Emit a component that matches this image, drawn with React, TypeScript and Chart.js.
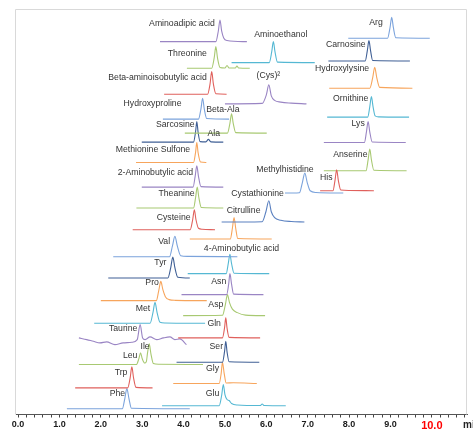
import React, { useEffect, useRef } from 'react';
import { Chart, registerables } from 'chart.js';

Chart.register(...registerables);

type Pt = [number, number];

// x: retention time (min); y: stacked signal offset (arbitrary units)
const X_MIN = -0.05;
const X_MAX = 10.85;
const X_STEP = 0.2;
const Y_MIN = 0;
const Y_MAX = 405;

// ---- traces (time, signal) ----
const AMINOADIPIC: Pt[] = [[3.43, 373.3], [4.78, 373.3], [4.84, 384], [4.88, 395], [4.92, 384], [4.97, 377], [5.05, 374.5], [5.53, 373.3]];
const THREONINE: Pt[] = [[4.08, 346.7], [4.68, 346.7], [4.74, 357], [4.78, 368.3], [4.82, 357], [4.88, 347.5], [5.0, 347], [5.05, 349.5], [5.1, 347], [5.25, 347], [5.29, 349], [5.33, 347], [5.6, 346.7]];
const AMINOETHANOL: Pt[] = [[5.16, 352.3], [6.07, 352.3], [6.13, 363], [6.17, 373.3], [6.21, 363], [6.27, 352.8], [7.17, 352.3]];
const BAIBA: Pt[] = [[3.53, 320.7], [4.58, 320.7], [4.64, 331], [4.68, 343.3], [4.72, 331], [4.78, 321.2], [5.04, 320.7]];
const CYSTINE: Pt[] = [[5.0, 311], [5.9, 311.5], [6.0, 320], [6.06, 330], [6.12, 319], [6.2, 314.5], [6.35, 312.8], [6.6, 311.8], [6.97, 311]];
const HYDROXYPROLINE: Pt[] = [[3.5, 295.7], [4.36, 295.7], [4.42, 306], [4.46, 316.7], [4.5, 306], [4.56, 296.3], [5.1, 295.7]];
const BETA_ALA: Pt[] = [[4.03, 281.7], [5.06, 281.7], [5.12, 291.5], [5.16, 301], [5.2, 291.5], [5.26, 282.2], [6.01, 281.7]];
const SARCOSINE: Pt[] = [[2.99, 272.7], [4.24, 272.7], [4.29, 283], [4.32, 293.3], [4.35, 283], [4.4, 273.2], [4.54, 273], [4.6, 275.5], [4.66, 273], [4.96, 272.7]];
const MET_SULFONE: Pt[] = [[2.85, 252.3], [4.24, 252.3], [4.29, 262.5], [4.32, 272.3], [4.35, 262.5], [4.41, 252.8], [4.55, 252.3]];
const AMINOBUTYLIC_2: Pt[] = [[2.99, 227.7], [4.23, 227.7], [4.28, 238.5], [4.32, 249], [4.36, 238.5], [4.42, 228.2], [4.96, 227.7]];
const THEANINE: Pt[] = [[2.86, 206.7], [4.24, 206.7], [4.29, 217], [4.33, 227.7], [4.37, 217], [4.43, 207.2], [4.96, 206.7]];
const CYSTEINE: Pt[] = [[2.77, 185], [4.16, 185], [4.22, 195], [4.26, 205], [4.3, 195], [4.36, 186.5], [4.45, 185.5], [4.76, 185]];
const CYSTATHIONINE: Pt[] = [[4.92, 192.7], [5.9, 193], [5.99, 203], [6.06, 214], [6.12, 203], [6.2, 197], [6.35, 194.5], [6.6, 193.2], [6.92, 192.7]];
const CITRULLINE: Pt[] = [[4.15, 175.7], [5.13, 175.7], [5.18, 186.5], [5.22, 197.3], [5.26, 186.5], [5.31, 176.2], [6.13, 175.7]];
const METHYLHISTIDINE: Pt[] = [[6.45, 221.7], [6.8, 222], [6.87, 232], [6.93, 241.7], [6.99, 232], [7.06, 224], [7.2, 222.3], [7.86, 221.7]];
const HIS: Pt[] = [[7.3, 224], [7.61, 224], [7.66, 234.5], [7.7, 245], [7.74, 234.5], [7.8, 224.8], [8.0, 224.3], [8.6, 224]];
const VAL: Pt[] = [[2.3, 158], [3.66, 158], [3.73, 168.5], [3.79, 178.3], [3.85, 168.5], [3.93, 159], [4.1, 158.3], [5.3, 158]];
const GABA: Pt[] = [[4.1, 141], [5.03, 141], [5.08, 151], [5.12, 160.5], [5.16, 151], [5.22, 141.5], [6.07, 141]];
const TYR: Pt[] = [[2.18, 136.7], [3.62, 136.7], [3.69, 147], [3.74, 157.7], [3.79, 147], [3.86, 137.5], [4.15, 136.7]];
const PRO: Pt[] = [[2.0, 114], [3.34, 114], [3.4, 124], [3.45, 133.3], [3.5, 125], [3.56, 118], [3.65, 115], [3.8, 114.3], [4.56, 114]];
const ASN: Pt[] = [[3.95, 120], [5.04, 120], [5.09, 130.5], [5.12, 141], [5.16, 130.5], [5.21, 120.5], [5.93, 120]];
const ASP: Pt[] = [[3.99, 99], [4.94, 99.3], [5.01, 110], [5.06, 120], [5.11, 112], [5.18, 105.5], [5.3, 102], [5.5, 99.5], [5.97, 99]];
const MET: Pt[] = [[1.84, 91.3], [3.19, 91.3], [3.26, 102], [3.31, 112.3], [3.36, 102], [3.43, 92.3], [3.55, 91.6], [4.52, 91.3]];
const GLN: Pt[] = [[3.87, 76.7], [4.94, 76.7], [4.99, 86.7], [5.02, 96.7], [5.05, 86.7], [5.1, 77.2], [5.85, 76.7]];
const TAURINE: Pt[] = [[1.47, 76.7], [1.66, 75], [1.82, 73.3], [1.98, 71.7], [2.14, 72.7], [2.34, 70], [2.54, 71.7], [2.75, 72.3], [2.88, 75], [2.95, 90], [3.01, 76.7], [3.07, 75], [3.19, 77.7], [3.35, 75], [3.51, 76.7], [3.67, 77.7], [3.79, 75], [3.91, 75.7], [4.07, 70]];
const SER: Pt[] = [[3.83, 52.3], [4.94, 52.3], [4.99, 63], [5.02, 73.3], [5.05, 63], [5.1, 52.8], [5.83, 52.3]];
const LEU_ILE: Pt[] = [[1.47, 50], [2.86, 50], [2.92, 56], [2.96, 61.7], [3.0, 56], [3.06, 51.5], [3.1, 53], [3.13, 62], [3.17, 70.7], [3.21, 61], [3.27, 51], [3.4, 50.3], [4.47, 50]];
const TRP: Pt[] = [[1.38, 26.7], [2.65, 26.7], [2.71, 37], [2.75, 47.7], [2.79, 37], [2.85, 27.2], [3.25, 26.7]];
const GLY: Pt[] = [[3.75, 31], [4.86, 31], [4.91, 41.5], [4.94, 52.3], [4.98, 41.5], [5.03, 31.5], [5.2, 31.8], [5.77, 31]];
const PHE: Pt[] = [[1.18, 5.7], [2.52, 5.7], [2.58, 16], [2.63, 26], [2.68, 16], [2.74, 6.2], [4.15, 5.7]];
const GLU: Pt[] = [[3.48, 8.7], [4.86, 8.7], [4.92, 19], [4.96, 30], [5.0, 20], [5.05, 15], [5.1, 14], [5.16, 11], [5.3, 9.5], [5.85, 9], [5.9, 10.5], [5.95, 9], [6.47, 8.7]];
const ARG: Pt[] = [[7.98, 376.7], [8.93, 376.7], [8.99, 387.5], [9.03, 397.7], [9.07, 387.5], [9.13, 377.2], [9.95, 376.7]];
const CARNOSINE: Pt[] = [[7.5, 354], [8.39, 354], [8.44, 364], [8.48, 374.3], [8.52, 364], [8.57, 354.5], [9.47, 354]];
const HYDROXYLYSINE: Pt[] = [[7.52, 326.7], [8.5, 326.7], [8.57, 337], [8.62, 347.7], [8.67, 337], [8.74, 327.5], [9.53, 326.7]];
const ORNITHINE: Pt[] = [[7.47, 297.7], [8.45, 297.7], [8.5, 308], [8.54, 318.3], [8.58, 308], [8.63, 299], [8.72, 298], [9.45, 297.7]];
const LYS: Pt[] = [[7.39, 272.3], [8.37, 272.3], [8.42, 283], [8.46, 293.3], [8.5, 283], [8.56, 272.8], [9.37, 272.3]];
const ANSERINE: Pt[] = [[7.39, 244], [8.41, 244], [8.46, 255], [8.5, 265.7], [8.54, 255], [8.6, 244.5], [9.39, 244]];

// ---- text labels: [text, time, signal] (label centre) ----
const LABELS: [string, number, number][] = [
  ['Aminoadipic acid', 3.96, 391],
  ['Threonine', 4.09, 361],
  ['Aminoethanol', 6.35, 380],
  ['Beta-aminoisobutylic acid', 3.37, 337.7],
  ['(Cys)\u00B2', 6.05, 339],
  ['Hydroxyproline', 3.25, 311],
  ['Beta-Ala', 4.95, 305.7],
  ['Sarcosine', 3.8, 290],
  ['Ala', 4.73, 281.7],
  ['Methionine Sulfone', 3.26, 265],
  ['2-Aminobutylic acid', 3.32, 241.7],
  ['Theanine', 3.83, 221],
  ['Cysteine', 3.76, 196.7],
  ['Cystathionine', 5.79, 221],
  ['Citrulline', 5.45, 204],
  ['Methylhistidine', 6.45, 245.7],
  ['Val', 3.53, 172.7],
  ['4-Aminobutylic acid', 5.4, 165.7],
  ['Tyr', 3.44, 151.7],
  ['Pro', 3.24, 132.3],
  ['Asn', 4.85, 133.3],
  ['Asp', 4.78, 110],
  ['Met', 3.02, 106],
  ['Gln', 4.74, 91],
  ['Taurine', 2.54, 86],
  ['Ser', 4.79, 68.3],
  ['Leu', 2.71, 59],
  ['Ile', 3.07, 68.3],
  ['Trp', 2.49, 41.7],
  ['Gly', 4.7, 45.7],
  ['Phe', 2.4, 20.7],
  ['Glu', 4.7, 21],
  ['Arg', 8.65, 392.3],
  ['Carnosine', 7.92, 370],
  ['Hydroxylysine', 7.83, 346.7],
  ['Ornithine', 8.04, 316],
  ['Lys', 8.22, 291.7],
  ['Anserine', 8.03, 260],
  ['His', 7.45, 236.7],
];

// ---- palette ----
const C = {
  blue: '#7ba3dc',
  blueM: '#5a80c0',
  navy: '#3f5f95',
  red: '#e0605c',
  green: '#a8c972',
  purple: '#9a85c4',
  teal: '#55b8d3',
  orange: '#f7a55c',
};

const TRACES: { name: string; data: Pt[]; color: string }[] = [
  { name: 'Aminoadipic acid', data: AMINOADIPIC, color: C.purple },
  { name: 'Threonine', data: THREONINE, color: C.green },
  { name: 'Aminoethanol', data: AMINOETHANOL, color: C.teal },
  { name: 'Beta-aminoisobutylic acid', data: BAIBA, color: C.red },
  { name: '(Cys)2', data: CYSTINE, color: C.purple },
  { name: 'Hydroxyproline', data: HYDROXYPROLINE, color: C.blue },
  { name: 'Beta-Ala', data: BETA_ALA, color: C.green },
  { name: 'Sarcosine', data: SARCOSINE, color: C.navy },
  { name: 'Methionine Sulfone', data: MET_SULFONE, color: C.orange },
  { name: '2-Aminobutylic acid', data: AMINOBUTYLIC_2, color: C.purple },
  { name: 'Theanine', data: THEANINE, color: C.green },
  { name: 'Cysteine', data: CYSTEINE, color: C.red },
  { name: 'Cystathionine', data: CYSTATHIONINE, color: C.blueM },
  { name: 'Citrulline', data: CITRULLINE, color: C.orange },
  { name: 'Methylhistidine', data: METHYLHISTIDINE, color: C.blue },
  { name: 'His', data: HIS, color: C.red },
  { name: 'Val', data: VAL, color: C.blue },
  { name: '4-Aminobutylic acid', data: GABA, color: C.teal },
  { name: 'Tyr', data: TYR, color: C.navy },
  { name: 'Pro', data: PRO, color: C.orange },
  { name: 'Asn', data: ASN, color: C.purple },
  { name: 'Asp', data: ASP, color: C.green },
  { name: 'Met', data: MET, color: C.teal },
  { name: 'Gln', data: GLN, color: C.red },
  { name: 'Taurine', data: TAURINE, color: C.purple },
  { name: 'Ser', data: SER, color: C.navy },
  { name: 'Leu/Ile', data: LEU_ILE, color: C.green },
  { name: 'Trp', data: TRP, color: C.red },
  { name: 'Gly', data: GLY, color: C.orange },
  { name: 'Phe', data: PHE, color: C.blue },
  { name: 'Glu', data: GLU, color: C.teal },
  { name: 'Arg', data: ARG, color: C.blue },
  { name: 'Carnosine', data: CARNOSINE, color: C.navy },
  { name: 'Hydroxylysine', data: HYDROXYLYSINE, color: C.orange },
  { name: 'Ornithine', data: ORNITHINE, color: C.teal },
  { name: 'Lys', data: LYS, color: C.purple },
  { name: 'Anserine', data: ANSERINE, color: C.green },
];

const isWhole = (v: number) => Math.abs(v - Math.round(v)) < 1e-6;
const isTen = (c: any) => c.tick && Math.abs(c.tick.value - 10) < 1e-6;

const framePlugin = {
  id: 'frame',
  beforeDatasetsDraw(chart: any) {
    const { ctx, chartArea } = chart;
    const { left, top, right, bottom } = chartArea;
    ctx.save();
    ctx.strokeStyle = '#d9d9d9';
    ctx.lineWidth = 1;
    ctx.beginPath();
    ctx.moveTo(Math.round(left) - 0.5, bottom);
    ctx.lineTo(Math.round(left) - 0.5, Math.round(top) - 0.5);
    ctx.lineTo(Math.round(right) - 0.5, Math.round(top) - 0.5);
    ctx.lineTo(Math.round(right) - 0.5, bottom);
    ctx.stroke();
    ctx.restore();
  },
};

const labelPlugin = {
  id: 'peakLabels',
  afterDatasetsDraw(chart: any) {
    const { ctx, scales } = chart;
    ctx.save();
    ctx.font = '8.7px "Liberation Sans", Arial, sans-serif';
    ctx.fillStyle = '#333';
    ctx.textAlign = 'center';
    ctx.textBaseline = 'middle';
    for (const [text, t, s] of LABELS) {
      ctx.fillText(text, scales.x.getPixelForValue(t), scales.y.getPixelForValue(s));
    }
    ctx.restore();
  },
};

const unitPlugin = {
  id: 'unit',
  afterDraw(chart: any) {
    const { ctx, scales } = chart;
    ctx.save();
    ctx.font = 'bold 10px "Liberation Sans", Arial, sans-serif';
    ctx.fillStyle = '#222';
    ctx.textAlign = 'left';
    ctx.textBaseline = 'middle';
    ctx.fillText('min', scales.x.right - 4, scales.x.top + 10.5);
    ctx.restore();
  },
};

export default function App() {
  const ref = useRef<HTMLCanvasElement | null>(null);

  useEffect(() => {
    if (!ref.current) return;
    const chart = new Chart(ref.current, {
      type: 'line',
      data: {
        datasets: TRACES.map((tr) => ({
          label: tr.name,
          data: tr.data.map(([x, y]) => ({ x, y })),
          borderColor: tr.color,
          backgroundColor: tr.color,
          borderWidth: 1.1,
          pointRadius: 0,
          fill: false,
          cubicInterpolationMode: 'monotone' as const,
        })),
      },
      options: {
        animation: false,
        responsive: false,
        maintainAspectRatio: false,
        layout: { padding: { left: 16, top: 10, right: 6, bottom: 0 } },
        plugins: { legend: { display: false }, tooltip: { enabled: false } },
        scales: {
          x: {
            type: 'linear',
            min: X_MIN,
            max: X_MAX,
            afterFit: (s: any) => {
              s.height = 14.5;
            },
            border: { display: true, color: '#555', width: 1 },
            grid: { display: true, drawOnChartArea: false, drawTicks: true, tickLength: 3, color: '#444' },
            ticks: {
              stepSize: X_STEP,
              includeBounds: false,
              autoSkip: false,
              maxRotation: 0,
              minRotation: 0,
              padding: 1.5,
              callback: (v: any) => (isWhole(Number(v)) ? Number(v).toFixed(1) : ''),
              color: (c: any) => (isTen(c) ? '#ff0000' : '#1a1a1a'),
              font: (c: any) =>
                isTen(c)
                  ? { family: '"Liberation Sans", Arial, sans-serif', size: 11, weight: 'bold' }
                  : { family: '"Liberation Sans", Arial, sans-serif', size: 9, weight: 'bold' },
            },
          },
          y: { display: false, min: Y_MIN, max: Y_MAX },
        },
      } as any,
      plugins: [framePlugin, labelPlugin, unitPlugin],
    });
    return () => chart.destroy();
  }, []);

  return (
    <div style={{ position: 'absolute', left: 0, top: 0, width: 473, height: 429, background: '#fff' }}>
      <canvas ref={ref} width={473} height={429} style={{ display: 'block', width: 473, height: 429 }} />
    </div>
  );
}
